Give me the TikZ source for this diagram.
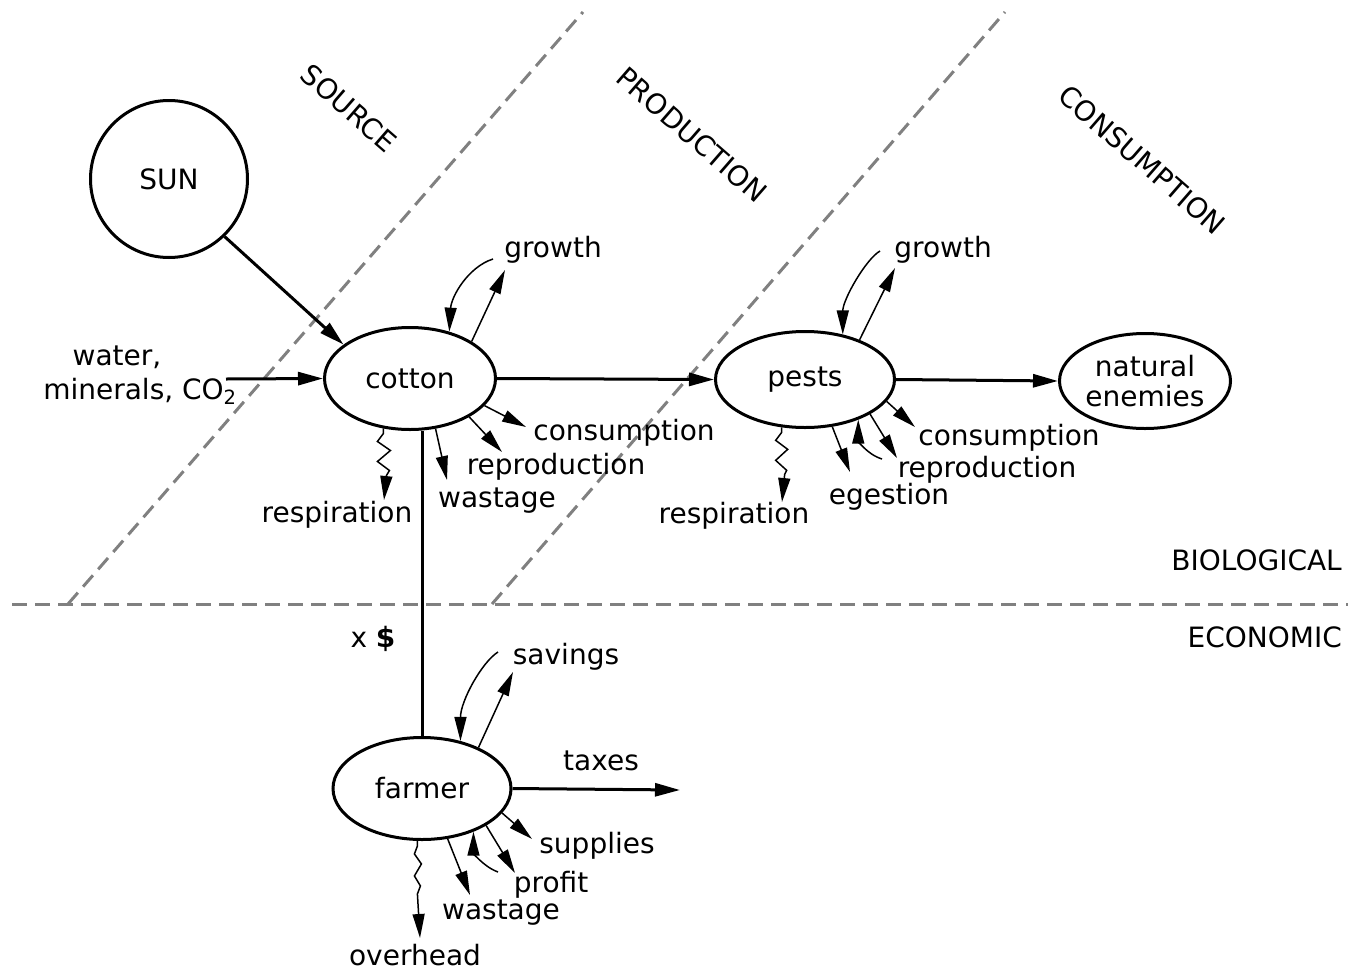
\documentclass[tikz,border=0pt]{standalone}
\usepackage{fontspec}
\setmainfont{DejaVu Sans}
\usetikzlibrary{arrows.meta,shapes.geometric}
\begin{document}
\begin{tikzpicture}[x=1pt,y=-1pt,
  every node/.style={font=\fontsize{28}{32}\selectfont},
  lbl/.style={inner sep=0pt, text height=20pt, text depth=6pt},
  oval/.style={ellipse, draw, line width=3pt, inner sep=0pt},
  mainarrow/.style={line width=3pt, -{Triangle[length=25pt,width=13pt]}},
  thinarrow/.style={line width=1.5pt, -{Triangle[length=24pt,width=12pt]}},
  plainline/.style={line width=3pt},
  divider/.style={draw=black!50, line width=3pt, dash pattern=on 15pt off 8pt},
]
\useasboundingbox (0,0) rectangle (1348,972);

% dividers
\coordinate (h1) at (12,604);
\coordinate (h2) at (1348,604);
\coordinate (d1b) at (68,604);
\coordinate (d1t) at (583,12);
\coordinate (d2b) at (492,604);
\coordinate (d2t) at (1005,12);
\draw[divider] (h1) -- (h2);
\draw[divider] (d1b) -- (d1t);
\draw[divider] (d2b) -- (d2t);

% zone labels
\node[rotate=-41] (lsource) at (349,108) {SOURCE};
\node[rotate=-41] (lprod) at (692,135) {PRODUCTION};
\node[rotate=-41] (lconsz) at (1142,160) {CONSUMPTION};
\node[lbl, anchor=east] (lbio) at (1342,563) {BIOLOGICAL};
\node[lbl, anchor=east] (leco) at (1342,640) {ECONOMIC};

% main nodes
\node[circle, draw, line width=3pt, minimum size=157pt, inner sep=0pt] (sun) at (169,179) {SUN};
\node[oval, minimum width=171pt, minimum height=102pt] (cotton) at (410,378.5) {cotton};
\node[oval, minimum width=179pt, minimum height=96pt] (pests) at (805,379.5) {pests};
\node[oval, minimum width=171pt, minimum height=95pt, align=center,
      font=\fontsize{28}{30}\selectfont] (ne) at (1145,381) {natural\\enemies};
\node[oval, minimum width=178pt, minimum height=102pt] (farmer) at (422,788.5) {farmer};

% inputs
\node[lbl] (lwater) at (117,358) {water,};
\node[lbl] (lminer) at (140,392) {minerals, CO\textsubscript{2}};
\coordinate (win) at (226,379);
\draw[mainarrow] (sun.-46) -- (cotton.153);
\draw[mainarrow] (win) -- (cotton.180);
\draw[mainarrow] (cotton.east) -- (pests.west);
\draw[mainarrow] (pests.east) -- (ne.west);
\draw[plainline] (farmer.north) -- (farmer.north |- cotton.south);
\node[lbl] (lx) at (373,640) {x \textbf{\$}};
\coordinate (taxt) at (680,790);
\draw[mainarrow] (farmer.east) -- (taxt);
\node[lbl] (ltax) at (601,763) {taxes};

% cotton flows
\node[lbl] (lg1) at (553,250) {growth};
\node[lbl] (lc1) at (624,433) {consumption};
\node[lbl] (lr1) at (556,467) {reproduction};
\node[lbl] (lw1) at (497,500) {wastage};
\node[lbl] (lre1) at (337,515) {respiration};
\coordinate (g1s) at (493,259);
\coordinate (g1t) at (505,270);
\coordinate (c1t) at (526,427);
\coordinate (r1t) at (502,452);
\coordinate (w1t) at (447,480);
\coordinate (re1t) at (384,500);
\draw[thinarrow] (g1s) .. controls +(-25,8) and +(2,-35) .. (cotton.50);
\draw[thinarrow] (cotton.31) -- (g1t);
\draw[thinarrow] (cotton.-20) -- (c1t);
\draw[thinarrow] (cotton.-33) -- (r1t);
\draw[thinarrow] (cotton.-63) -- (w1t);
\draw[thinarrow] (cotton.-118) -- ++(0,5) -- ++(-6,8) -- ++(13,9) -- ++(-13,11) -- ++(12,9) -- ++(-3,5) -- (re1t);

% pests flows
\node[lbl] (lg2) at (943,250) {growth};
\node[lbl] (lc2) at (1009,438) {consumption};
\node[lbl] (lr2) at (987,470) {reproduction};
\node[lbl] (le2) at (889,497) {egestion};
\node[lbl] (lre2) at (734,516) {respiration};
\coordinate (g2s) at (880,251);
\coordinate (g2t) at (895,268);
\coordinate (c2t) at (915,427);
\coordinate (r2t) at (897,458);
\coordinate (i2s) at (882,459);
\coordinate (e2t) at (850,472);
\coordinate (re2t) at (782,502);
\draw[thinarrow] (g2s) .. controls +(-14,8) and +(0,-35) .. (pests.50);
\draw[thinarrow] (pests.36) -- (g2t);
\draw[thinarrow] (pests.-15) -- (c2t);
\draw[thinarrow] (pests.-28) -- (r2t);
\draw[thinarrow] (i2s) .. controls +(-16,-5) and +(0,20) .. (pests.-37);
\draw[thinarrow] (pests.-60) -- (e2t);
\draw[thinarrow] (pests.-116) -- ++(0,5) -- ++(-6,8) -- ++(12,9) -- ++(-12,11) -- ++(11,10) -- ++(-2,4) -- (re2t);

% farmer flows
\node[lbl] (ls3) at (566,657) {savings};
\node[lbl] (lsu3) at (597,846) {supplies};
\node[lbl] (lp3) at (551,885) {profit};
\node[lbl] (lw3) at (501,912) {wastage};
\node[lbl] (lo3) at (415,958) {overhead};
\coordinate (s3s) at (498,652);
\coordinate (s3t) at (513,672);
\coordinate (su3t) at (532,839);
\coordinate (p3t) at (515,873);
\coordinate (i3s) at (498,872);
\coordinate (w3t) at (470,895);
\coordinate (o3t) at (420,938);
\draw[thinarrow] (s3s) .. controls +(-16,10) and +(0,-40) .. (farmer.51);
\draw[thinarrow] (farmer.36) -- (s3t);
\draw[thinarrow] (farmer.-17) -- (su3t);
\draw[thinarrow] (farmer.-30) -- (p3t);
\draw[thinarrow] (i3s) .. controls +(-16,-6) and +(0,20) .. (farmer.-40);
\draw[thinarrow] (farmer.-63) -- (w3t);
\draw[thinarrow] (farmer.-95) -- ++(0,5) -- ++(-3,8) -- ++(7,10) -- ++(-7,12) -- ++(6,10) -- ++(-3,8) -- (o3t);
\end{tikzpicture}
\end{document}
